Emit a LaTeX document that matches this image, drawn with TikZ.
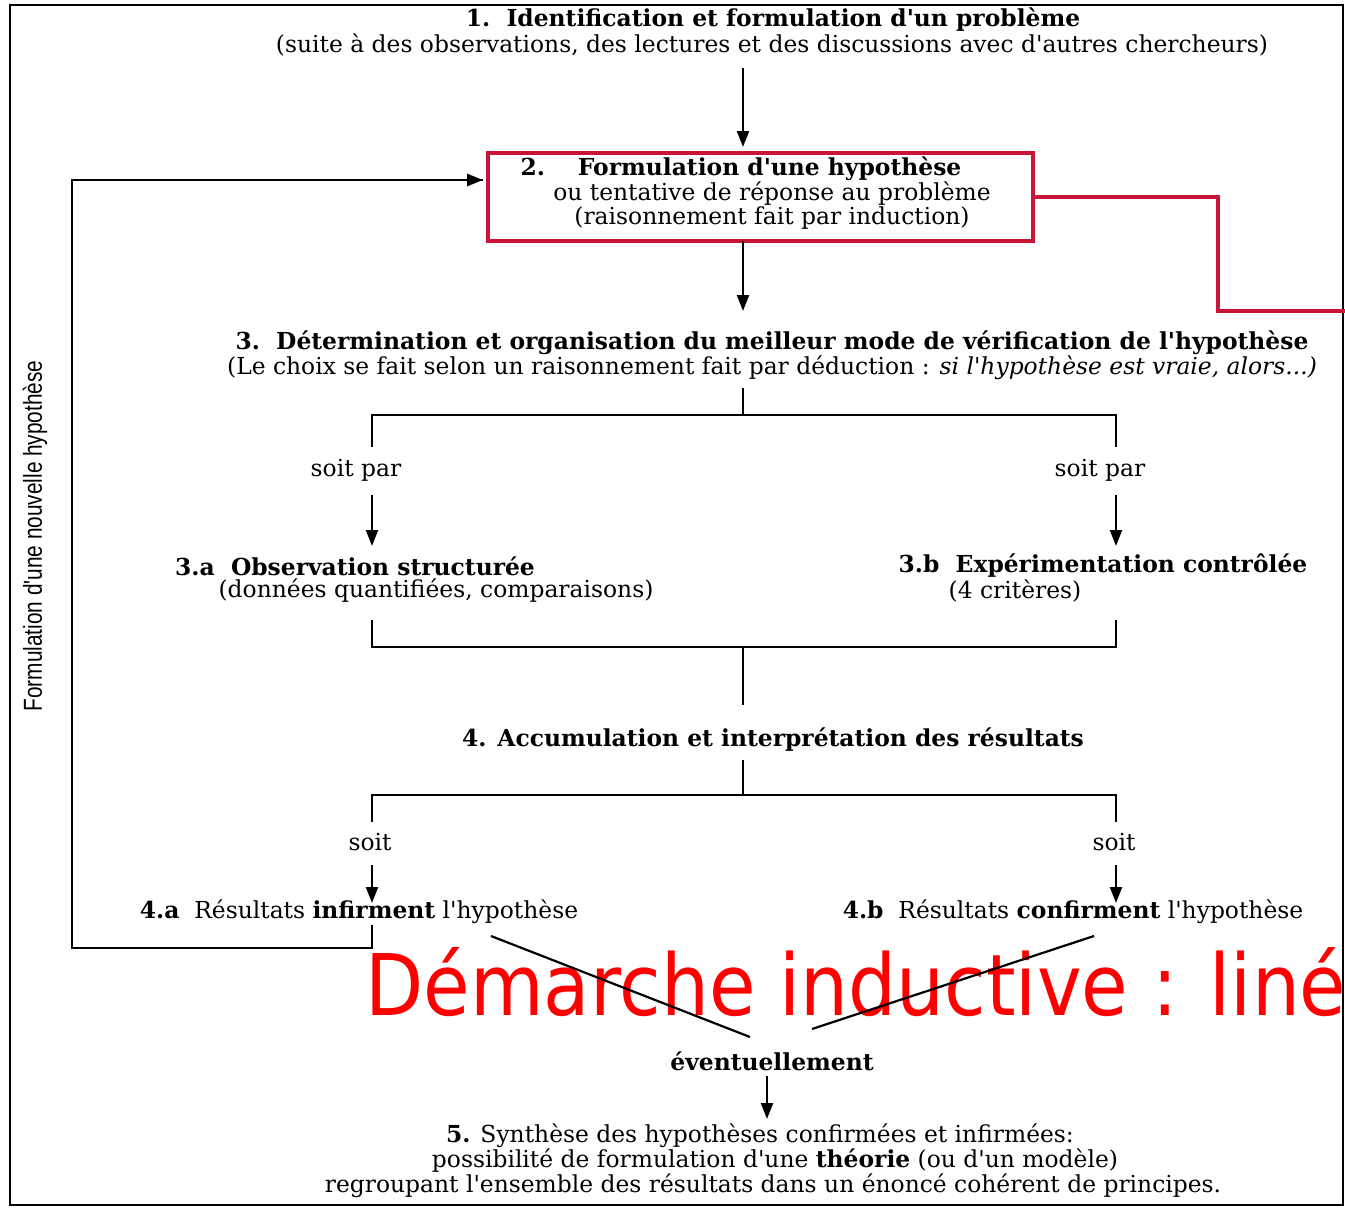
\documentclass[tikz,border=0pt]{standalone}
\usepackage{fontspec}
\setmainfont{DejaVu Serif}
\newfontfamily\serif{DejaVu Serif}
\newfontfamily\redfont{DejaVu Sans}[FakeStretch=0.89]
\newfontfamily\sidefont{Liberation Sans}[FakeStretch=0.8]
\usetikzlibrary{arrows.meta}
\definecolor{boxred}{RGB}{200,20,55}
\definecolor{pured}{RGB}{255,0,0}
\begin{document}
\begin{tikzpicture}[x=0.5pt,y=-0.5pt,
  txt/.style={inner sep=0pt, font=\serif\fontsize{11.7}{14}\selectfont},
  ln/.style={line width=1.1pt},
  arr/.style={line width=1.1pt,-{Triangle[length=8pt,width=6pt]}},
  loopln/.style={line width=1.4pt},
  redline/.style={draw=boxred,line width=2pt}]
\useasboundingbox (0,0) rectangle (1345,1210);
\fill[white] (0,0) rectangle (1345,1210);
\draw[line width=0.8pt] (10,5) rectangle (1343,1205);

% texts
\node[txt] (t1a) at (773,20) {\bfseries 1.\ \ Identification et formulation d'un problème};
\node[txt] (t1b) at (772,45) {(suite à des observations, des lectures et des discussions avec d'autres chercheurs)};

\node[draw=boxred, line width=2pt, minimum width=272.5pt, minimum height=44pt, inner sep=0pt] (box) at (760.5,197) {};
\node[txt] (t2a) at (741,169) {\bfseries 2.\hspace{1.4em}Formulation d'une hypothèse};
\node[txt] (t2b) at (772,194) {ou tentative de réponse au problème};
\node[txt] (t2c) at (772,218) {(raisonnement fait par induction)};

\node[txt] (t3a) at (772,343) {\bfseries 3.\ \ Détermination et organisation du meilleur mode de vérification de l'hypothèse};
\node[txt] (t3b) at (772,368) {(Le choix se fait selon un raisonnement fait par déduction : \textit{si l'hypothèse est vraie, alors...)}};

\node[txt] (sp1) at (356,470) {soit par};
\node[txt] (sp2) at (1100,470) {soit par};

\node[txt] (t3aa) at (355,566) {\bfseries 3.a\ \ Observation structurée};
\node[txt] (t3ab) at (436,591) {(données quantifiées, comparaisons)};
\node[txt] (t3ba) at (1103,566) {\bfseries 3.b\ \ Expérimentation contrôlée};
\node[txt] (t3bb) at (1015,591) {(4 critères)};

\node[txt] (t4) at (773,740) {\bfseries 4. Accumulation et interprétation des résultats};

\node[txt] (s1) at (370,842) {soit};
\node[txt] (s2) at (1114,842) {soit};

\node[txt] (t4a) at (359,912) {\textbf{4.a}\ \ Résultats \textbf{infirment} l'hypothèse};
\node[txt] (t4b) at (1073,912) {\textbf{4.b}\ \ Résultats \textbf{confirment} l'hypothèse};

\node[txt] (ev) at (772,1061) {\bfseries éventuellement};

\node[txt] (t5a) at (760,1136) {\textbf{5.} Synthèse des hypothèses confirmées et infirmées:};
\node[txt] (t5b) at (775,1161) {possibilité de formulation d'une \textbf{théorie} (ou d'un modèle)};
\node[txt] (t5c) at (773,1186) {regroupant l'ensemble des résultats dans un énoncé cohérent de principes.};

\node[inner sep=0pt, rotate=90, font=\sidefont\fontsize{13}{15}\selectfont] (side) at (35,536) {Formulation d'une nouvelle hypothèse};

% red overlay title (clipped)
\begin{scope}
\clip (0,0) rectangle (1345,1210);
\node[anchor=base west, inner sep=0pt, text=pured, font=\redfont\fontsize{42.5}{50}\selectfont] (title) at (365,1015) {Démarche inductive : liné};
\draw[redline] (box.east) -- (1218,197) -- (1218,311) -- (1350,311);
\end{scope}

% coordinates
\coordinate (a1s) at (743,68);   \coordinate (a1e) at (743,147);
\coordinate (a2s) at (743,241);  \coordinate (a2e) at (743,311);
\coordinate (b3c) at (743,388);  \coordinate (b3m) at (743,415);
\coordinate (b3l) at (372,447);  \coordinate (b3r) at (1116,447);
\coordinate (a3ls) at (372,495); \coordinate (a3le) at (372,546);
\coordinate (a3rs) at (1116,495);\coordinate (a3re) at (1116,546);
\coordinate (k3l) at (372,620);  \coordinate (k3r) at (1116,620);
\coordinate (k3m) at (743,647);  \coordinate (k3e) at (743,705);
\coordinate (b4c) at (743,760);  \coordinate (b4m) at (743,795);
\coordinate (b4l) at (372,822);  \coordinate (b4r) at (1116,822);
\coordinate (a4ls) at (372,865); \coordinate (a4le) at (372,903);
\coordinate (a4rs) at (1116,865);\coordinate (a4re) at (1116,903);
\coordinate (lp0) at (372,925);  \coordinate (lp1) at (72,948);
\coordinate (lp2) at (483,180);
\coordinate (d1s) at (491,936);  \coordinate (d1e) at (750,1037);
\coordinate (d2s) at (1094,936); \coordinate (d2e) at (812,1029);
\coordinate (a5s) at (767,1076); \coordinate (a5e) at (767,1119);

% connectors
\draw[arr] (a1s) -- (a1e);
\draw[arr] (a2s) -- (a2e);
\draw[ln] (b3c) -- (b3m);
\draw[ln] (b3l) |- (b3m) -| (b3r);
\draw[arr] (a3ls) -- (a3le);
\draw[arr] (a3rs) -- (a3re);
\draw[ln] (k3l) |- (k3m) -| (k3r);
\draw[ln] (k3m) -- (k3e);
\draw[ln] (b4c) -- (b4m);
\draw[ln] (b4l) |- (b4m) -| (b4r);
\draw[arr] (a4ls) -- (a4le);
\draw[arr] (a4rs) -- (a4re);
\draw[loopln] (lp0) |- (lp1) |- (lp2);
\draw[arr,line width=1.4pt] (72,180) -- (lp2);
\draw[ln] (d1s) -- (d1e);
\draw[ln] (d2s) -- (d2e);
\draw[arr] (a5s) -- (a5e);
\end{tikzpicture}
\end{document}
